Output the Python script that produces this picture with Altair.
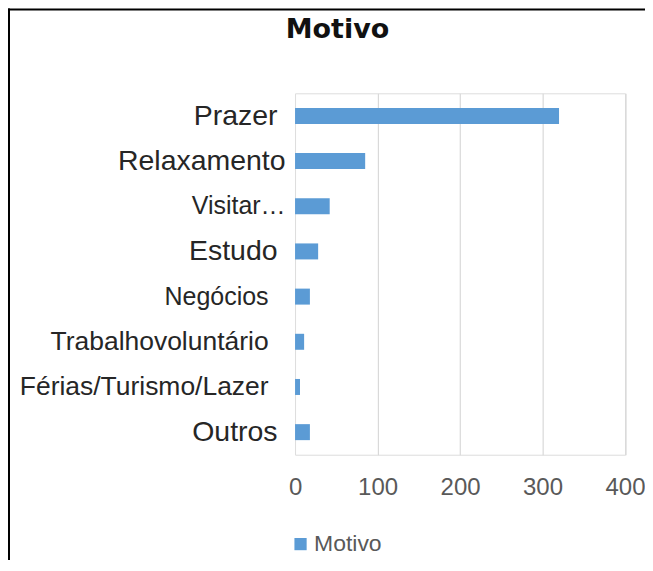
import altair as alt
import pandas as pd

titulo = "Motivo"
categorias = ["Prazer", "Relaxamento", "Visitar…", "Estudo", "Negócios",
              "Trabalhovoluntário", "Férias/Turismo/Lazer", "Outros"]
valores = [320, 85, 42, 28, 18, 11, 6, 18]
serie = "Motivo"
ticks_x = [0, 100, 200, 300, 400]

df = pd.DataFrame({"categoria": categorias, "valor": valores,
                   "serie": [serie] * len(categorias)})

small_test = "indexof(['Visitar…','Negócios'], datum.value) >= 0"
mid_test = "indexof(['Férias/Turismo/Lazer','Trabalhovoluntário'], datum.value) >= 0"
far_test = "indexof(['Negócios','Trabalhovoluntário','Férias/Turismo/Lazer'], datum.value) >= 0"
near_test = "indexof(['Relaxamento','Visitar…'], datum.value) >= 0"

bars = alt.Chart(df).mark_bar().encode(
    y=alt.Y("categoria:N", sort=categorias,
            scale=alt.Scale(paddingInner=0.646, paddingOuter=0.323),
            axis=alt.Axis(title=None, domain=False, ticks=False,
                          labelFont="Liberation Sans",
                          labelFontSize={"condition": [{"test": small_test, "value": 25},
                                                       {"test": mid_test, "value": 26.5}],
                                         "value": 28.5},
                          labelPadding={"condition": [{"test": far_test, "value": 27},
                                                      {"test": near_test, "value": 10}],
                                        "value": 18},
                          labelColor="#262626", labelLimit=400)),
    x=alt.X("valor:Q", scale=alt.Scale(domain=[0, 400], nice=False),
            axis=alt.Axis(values=ticks_x, title=None, domain=False, ticks=False,
                          labelFont="Liberation Sans", labelFontSize=24,
                          labelPadding=21, labelColor="#595959", labelFlush=False,
                          gridColor="#D9D9D9", gridWidth=1.2,
                          gridOpacity={"condition": {"test": "datum.value == 0", "value": 0}, "value": 1})),
    color=alt.Color("serie:N", scale=alt.Scale(range=["#5B9BD5"]),
                    legend=alt.Legend(orient="none", legendX=-6, legendY=440, title=None,
                                      symbolType="square", symbolSize=150,
                                      symbolStrokeWidth=0, labelFontSize=23,
                                      labelFont="Liberation Sans", labelColor="#595959",
                                      labelOffset=2, padding=0)),
)

title_mark = alt.Chart(pd.DataFrame({"t": [titulo]})).mark_text(
    font="DejaVu Sans", fontSize=27, fontWeight="bold", color="#111111",
    align="center", baseline="alphabetic").encode(
    text="t:N", x=alt.value(42.5), y=alt.value(-55))

frame = pd.DataFrame({"k": [0]})
left_line = alt.Chart(frame).mark_rule(color="black", strokeWidth=2).encode(
    x=alt.value(-286.5), y=alt.value(-85), y2=alt.value(470))
top_line = alt.Chart(frame).mark_rule(color="black", strokeWidth=2).encode(
    y=alt.value(-84), x=alt.value(-287.5), x2=alt.value(370))

chart = alt.layer(bars, title_mark, left_line, top_line).properties(
    width=330.5, height=362,
    padding={"left": 287.5, "top": 85, "right": 20, "bottom": 105},
    autosize=alt.AutoSizeParams(type="none"),
).configure_view(stroke=None).configure(background="white")

chart.save("out.html", embed_options={"renderer": "svg", "actions": False})
